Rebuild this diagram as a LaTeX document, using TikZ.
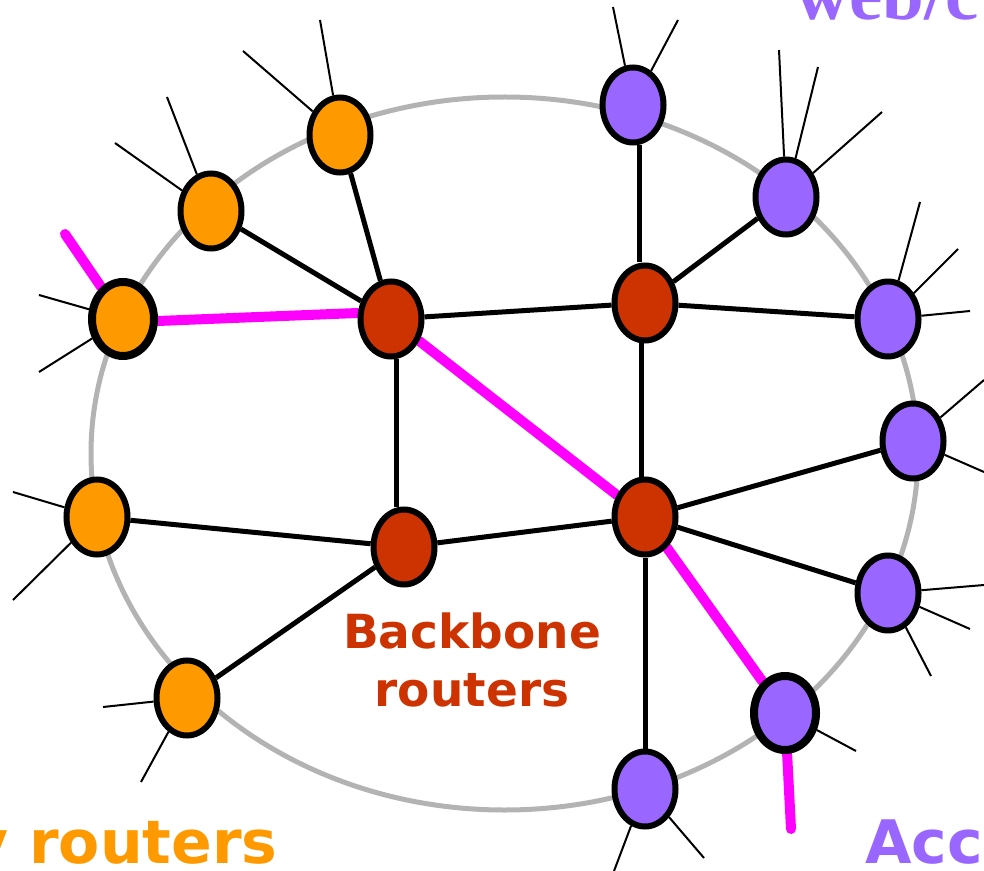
\documentclass[tikz,border=0pt]{standalone}
\usepackage{fontspec}
\usepackage{xcolor}
\usetikzlibrary{shapes.geometric, backgrounds}
\newfontfamily\labelfont{DejaVu Sans}
\newfontfamily\titlefont{Liberation Serif}
\definecolor{gateway}{HTML}{FF9900}
\definecolor{backbone}{HTML}{CC3300}
\definecolor{access}{HTML}{9966FF}
\definecolor{ringgray}{HTML}{B3B3B3}
\definecolor{route}{HTML}{FF00FF}
\tikzset{
    router/.style = {draw=black, ellipse, line width=3pt, inner sep=0pt, minimum width=30.5pt, minimum height=37.5pt},
    gateway-router/.style = {router, fill=gateway},
    backbone-router/.style = {router, fill=backbone},
    access-router/.style = {router, fill=access},
    on-route/.style = {line width=4pt, minimum width=31pt, minimum height=37pt},
    link/.style = {draw=black, line width=2.5pt},
    client-link/.style = {draw=black, line width=1pt},
    route-link/.style = {draw=route, line width=5pt, line cap=round},
    ring-line/.style = {draw=ringgray, line width=2.5pt},
    big-label/.style = {font=\labelfont\bfseries\fontsize{30}{36}\selectfont, inner sep=0pt, anchor=base west},
}

\begin{document}
\begin{tikzpicture}[x=0.5pt, y=-0.5pt]
\useasboundingbox (0,0) rectangle (984,871);
\clip (0,0) rectangle (984,871);

\node [gateway-router] (o1) at (340,135) {};
\node [gateway-router] (o2) at (211,211) {};
\node [gateway-router, on-route] (o3) at (123,319) {};
\node [gateway-router] (o4) at (97,517) {};
\node [gateway-router] (o5) at (187,698) {};

\node [backbone-router] (r1) at (391,319) {};
\node [backbone-router] (r2) at (645,303) {};
\node [backbone-router] (r3) at (404,547) {};
\node [backbone-router] (r4) at (645,517) {};

\node [access-router] (p1) at (633,105) {};
\node [access-router] (p2) at (786,197) {};
\node [access-router] (p3) at (888,319) {};
\node [access-router] (p4) at (913,441) {};
\node [access-router] (p5) at (888,593) {};
\node [access-router, on-route] (p6) at (785,713) {};
\node [access-router] (p7) at (645,789) {};

\begin{pgfonlayer}{background}
\draw [ring-line] (504.5,453.5) ellipse [x radius=206.75pt, y radius=178.25pt];
\foreach \a/\b in {o1/r1, o2/r1, o4/r3, o5/r3, r1/r2, r3/r4, r2/p2, r2/p3, r4/p4, r4/p5, r4/p7}
    \draw [link] (\a) -- (\b);
\draw [link] ([xshift=2.5pt]r1.south) -- ([xshift=-4pt]r3.north);
\draw [link] ([xshift=-2pt]r2.south) -- ([xshift=-2pt]r4.north);
\draw [link] ([xshift=3pt]p1.south) -- ([xshift=-3pt]r2.north);
\foreach \n/\i/\x/\y in {o1/1/320/20, o1/2/243/51, o2/1/167/97, o2/2/115/143, o3/1/39/295, o3/2/39/372,
        o4/1/13/492, o4/2/13/600, o5/1/103/707, o5/2/141/782, p1/1/613/7, p1/2/678/20,
        p2/1/779/50, p2/2/818/67, p2/3/882/112, p3/1/920/202, p3/2/958/249, p3/3/970/311,
        p4/1/984/380, p4/2/984/472, p5/1/984/585, p5/2/970/629, p5/3/931/676,
        p6/1/856/751, p7/1/614/871, p7/2/704/858} {
    \coordinate (\n-client\i) at (\x,\y);
    \draw [client-link] (\n) -- (\n-client\i);
}
\coordinate (route-in) at (65,234);
\coordinate (route-out) at (791,829);
\draw [route-link] ([yshift=-1pt]o3.east) -- ([yshift=3pt]r1.west);
\foreach \a/\b in {route-in/o3, r1/r4, r4/p6, p6/route-out}
    \draw [route-link] (\a) -- (\b);
\end{pgfonlayer}

\node [big-label, font=\labelfont\bfseries\fontsize{23.5}{29}\selectfont, text=backbone, align=center, anchor=base] (backbone-label) at (472,706) {Backbone\\routers};
\node [big-label, text=gateway] (gateway-label) at (-31,863) {y routers};
\node [big-label, text=access] (access-label) at (865,863) {Acc};
\node [big-label, font=\titlefont\bfseries\fontsize{37.5}{45}\selectfont, text=access] (web-label) at (795,20) {web/c};
\end{tikzpicture}
\end{document}
